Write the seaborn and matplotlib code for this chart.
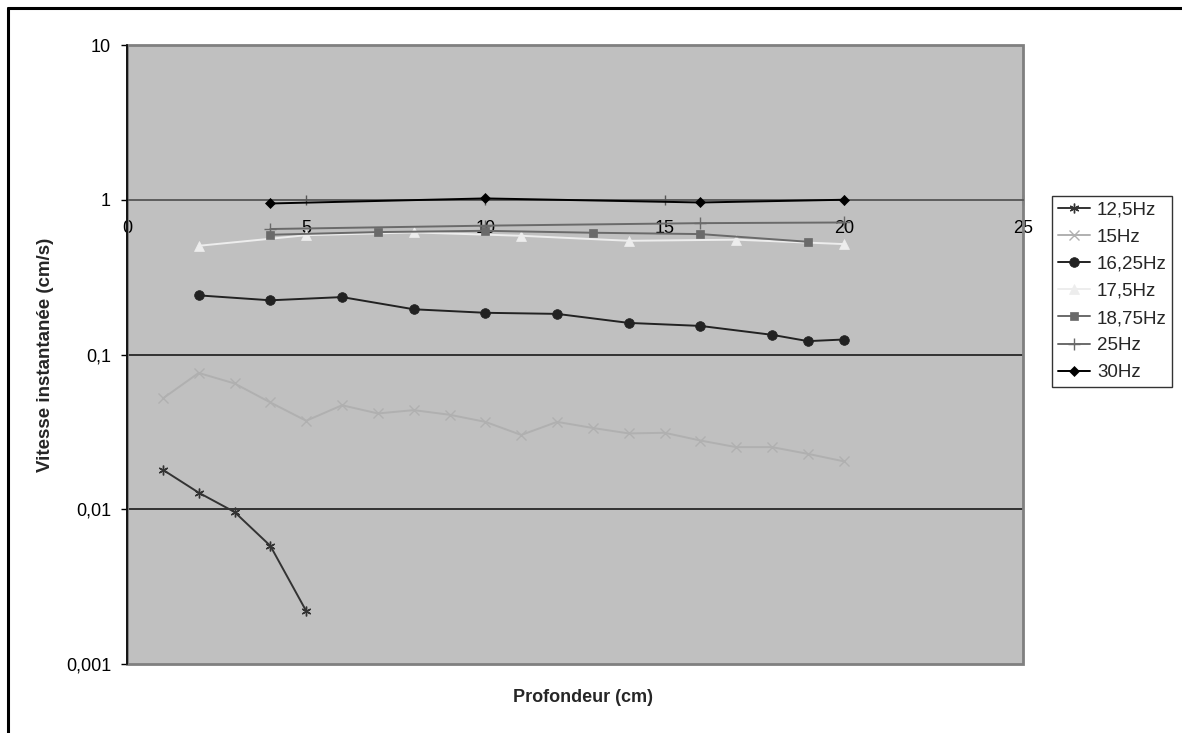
import numpy as np
import pandas as pd
import matplotlib
matplotlib.use("Agg")
import matplotlib.pyplot as plt
import seaborn as sns
from matplotlib.patches import Rectangle
from matplotlib.lines import Line2D
from matplotlib.ticker import FixedLocator, FixedFormatter

# ---- data ----
x_125 = [1, 2, 3, 4, 5]
y_125 = [0.018, 0.0128, 0.0096, 0.0058, 0.0022]

x_15 = list(range(1, 21))
y_15 = [0.052, 0.076, 0.065, 0.049, 0.0373, 0.047, 0.0416, 0.0437, 0.0408, 0.0367,
        0.0302, 0.0367, 0.0335, 0.0309, 0.0312, 0.0278, 0.0252, 0.0252, 0.0228, 0.0204]

x_1625 = [2, 4, 6, 8, 10, 12, 14, 16, 18, 19, 20]
y_1625 = [0.241, 0.224, 0.235, 0.196, 0.186, 0.183, 0.160, 0.153, 0.134, 0.122, 0.125]

x_175 = [2, 5, 8, 11, 14, 17, 20]
y_175 = [0.504, 0.59, 0.615, 0.585, 0.543, 0.552, 0.517]

x_1875 = [4, 7, 10, 13, 16, 19]
y_1875 = [0.594, 0.618, 0.630, 0.612, 0.600, 0.535]

x_25 = [4, 10, 16, 20]
y_25 = [0.647, 0.68, 0.706, 0.713]

x_30 = [4, 10, 16, 20]
y_30 = [0.946, 1.02, 0.96, 1.0]

labels = ["12,5Hz", "15Hz", "16,25Hz", "17,5Hz", "18,75Hz", "25Hz", "30Hz"]
y_ticks = [0.001, 0.01, 0.1, 1, 10]
y_tick_labels = ["0,001", "0,01", "0,1", "1", "10"]
x_ticks = [0, 5, 10, 15, 20, 25]
x_tick_labels = ["0", "5", "10", "15", "20", "25"]

series = [
    (x_125, y_125, labels[0], "#333333", (6, 2, 0), 7, 1.0),
    (x_15, y_15, labels[1], "#B0B0B0", "x", 6.5, 1.0),
    (x_1625, y_1625, labels[2], "#222222", "o", 7, None),
    (x_175, y_175, labels[3], "#EDEDED", "^", 7, None),
    (x_1875, y_1875, labels[4], "#6A6A6A", "s", 6, None),
    (x_25, y_25, labels[5], "#6A6A6A", "+", 8, 1.0),
    (x_30, y_30, labels[6], "#000000", "D", 5, None),
]

sns.set_theme(style="white")
plt.rcParams["font.family"] = ["Liberation Sans", "DejaVu Sans"]

fig = plt.figure(figsize=(11.82, 7.33), dpi=100)
ax = fig.add_axes([127 / 1182, 1 - 664 / 733, (1023 - 127) / 1182, (664 - 45) / 733])
ax.set_facecolor("#C0C0C0")

# outer chart frame (top and left visible)
fig.add_artist(Line2D([8 / 1182, 8 / 1182], [0, 1 - 8 / 733], transform=fig.transFigure,
                      color="black", lw=2.2))
fig.add_artist(Line2D([8 / 1182, 1], [1 - 8 / 733, 1 - 8 / 733], transform=fig.transFigure,
                      color="black", lw=2.2))

ax.set_yscale("log")
ax.set_ylim(0.001, 10)
ax.set_xlim(0, 25)

# horizontal gridlines
for yt in [0.01, 0.1]:
    ax.axhline(yt, color="#1a1a1a", lw=1.2, zorder=1)

handles = []
for xs, ys, lab, col, mk, ms, mew in series:
    df = pd.DataFrame({"x": xs, "y": ys})
    kw = {"markeredgecolor": col, "markeredgewidth": mew if mew is not None else 0.5}
    sns.lineplot(data=df, x="x", y="y", ax=ax, color=col, marker=mk, markersize=ms,
                 linewidth=1.4, sort=False, zorder=3, **kw)
    handles.append(Line2D([], [], color=col, marker=mk, markersize=ms, linewidth=1.4, **kw))

# plot area border
ax.add_patch(Rectangle((0, 0), 1, 1, transform=ax.transAxes, fill=False,
                       edgecolor="#808080", lw=2, zorder=2, clip_on=False))

for s in ["top", "right"]:
    ax.spines[s].set_visible(False)
ax.spines["left"].set_color("black")
ax.spines["left"].set_linewidth(1.2)
ax.spines["left"].set_zorder(4)
ax.spines["bottom"].set_position(("data", 1))
ax.spines["bottom"].set_color("#555555")
ax.spines["bottom"].set_linewidth(1.3)
ax.spines["bottom"].set_zorder(2.5)

ax.yaxis.set_major_locator(FixedLocator(y_ticks))
ax.yaxis.set_major_formatter(FixedFormatter(y_tick_labels))
ax.yaxis.set_minor_locator(FixedLocator([]))
ax.xaxis.set_major_locator(FixedLocator(x_ticks))
ax.xaxis.set_major_formatter(FixedFormatter(x_tick_labels))

ax.tick_params(axis="y", which="major", left=True, direction="out", length=4, width=1,
               color="black", labelsize=13, pad=7.5, labelcolor="black")
ax.tick_params(axis="x", which="major", bottom=True, direction="inout", length=7, width=1,
               color="#555555", labelsize=13, pad=11, labelcolor="black")

ax.set_xlabel("")
ax.set_ylabel("")
fig.text(583 / 1182, 1 - 697 / 733, "Profondeur (cm)", ha="center", va="center",
         fontsize=13, fontweight="bold")
fig.text(46 / 1182, 1 - 355 / 733, "Vitesse instantanée (cm/s)", ha="center", va="center",
         rotation=90, fontsize=13.5, fontweight="bold")

leg = fig.legend(handles, labels, loc="upper left", bbox_to_anchor=(1052 / 1182, 1 - 196 / 733),
                 bbox_transform=fig.transFigure, borderaxespad=0, frameon=True, fancybox=False,
                 fontsize=13.5, handlelength=1.75, labelspacing=0.53, handletextpad=0.35,
                 borderpad=0.3)
leg.get_frame().set_edgecolor("black")
leg.get_frame().set_linewidth(1.0)
leg.get_frame().set_facecolor("white")

fig.savefig("out.png", dpi=100)
